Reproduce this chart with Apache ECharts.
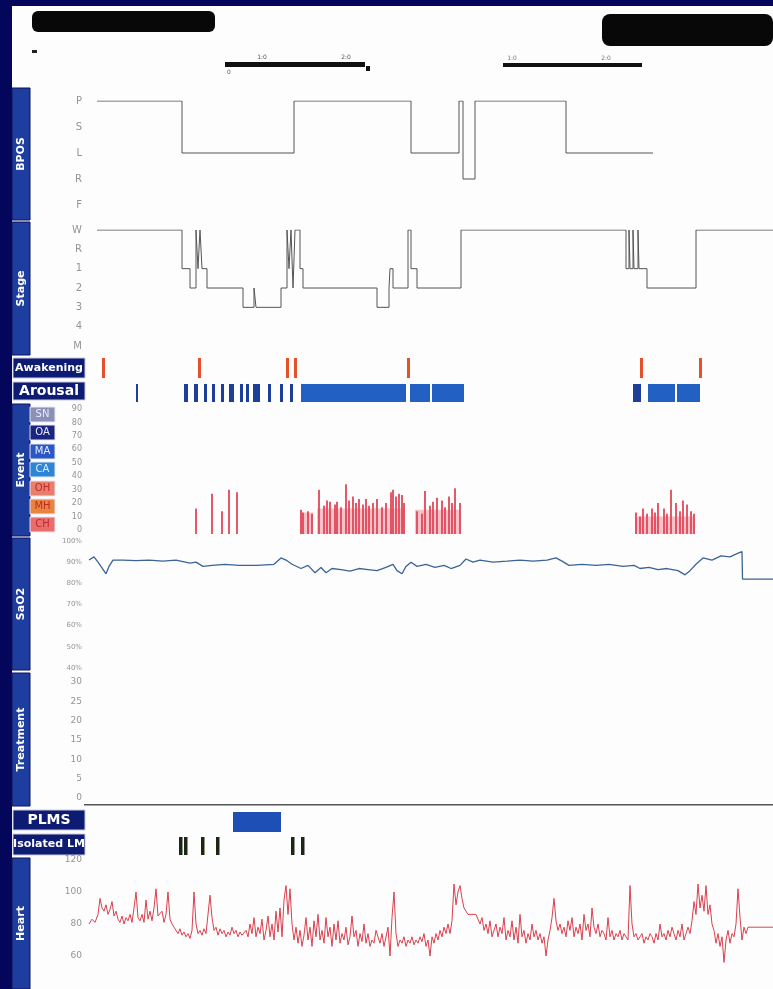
<!DOCTYPE html>
<html><head><meta charset="utf-8">
<script src="https://cdn.jsdelivr.net/npm/echarts@6/dist/echarts.min.js"></script>
<style>html,body{margin:0;padding:0;background:#ffffff;} #c{width:773px;height:989px;}</style>
</head><body><div id="c"></div>
<script>
// ---------- DATA (time in minutes from start of trace) ----------
const bposLabels = ['P','S','L','R','F'];
const bposSteps = [[0,0],[85,2],[197,0],[314,2],[362,0],[366,3],[378,0],[469,2],[556,2]];

const stageLabels = ['W','R','1','2','3','4','M'];
const stageSteps = [[0,0],[85,2],[93,3],[99,0],[101,2],[103,0],[105,2],[110,3],[146,4],[157,3],[159,4],[184,3],[190,0],[192,2],[194,0],[196,3],[198,0],[203,2],[206,3],[280,4],[292,3],[293,2],[296,3],[311,0],[314,2],[320,3],[364,0],[529,2],[532,0],[533,2],[536,0],[537,2],[541,0],[542,2],[550,3],[599,0],[676,0]];

const awakenings = [[5,8],[101,104],[189,192],[197,200],[310,313],[543,546],[602,605]];
const arousals = [[39,41],[87,91],[97,101],[107,110],[115,118],[124,127],[132,137],[143,146],[149,152],[156,163],[171,174],[183,186],[193,196],[204,309],[313,333],[335,367],[536,544],[551,578],[580,603]];

const eventLabels = ['SN','OA','MA','CA','OH','MH','CH'];
const events = [[99,16],[115,27],[125,14],[132,30],[140,28],
 [204,15],[206,13],[211,14],[215,12],[222,30],[227,18],[230,22],[233,21],[238,19],[240,21],[244,17],[249,34],[252,22],[256,25],[259,20],[262,23],[266,19],[269,23],[272,18],[276,20],[280,23],[285,17],[289,20],[294,28],[296,30],[299,25],[302,27],[305,26],[307,20],
 [320,14],[325,12],[328,29],[333,18],[336,21],[340,24],[345,22],[348,17],[352,25],[355,20],[358,31],[363,20],
 [539,13],[543,10],[546,16],[550,12],[555,16],[558,13],[561,20],[567,16],[570,12],[574,30],[579,20],[583,14],[586,22],[590,19],[594,14],[597,12]];
// pale shading under dense event clusters: [start, end, height]
const eventShade = [[203,216,13],[220,308,16],[318,364,15],[538,598,10]];

const sao2 = [[-8,91],[-3,92.5],[1,90],[5.5,87],[9,84.5],[12,88],[16,91],[26,91],[39,90.7],[52,91],[66,90.5],[79,91],[93,89.5],[99,90],[106,88],[115,88.5],[128,89],[142,88.5],[160,88.5],[177,89],[184,92],[189,91],[195,89],[204,87],[211,88.5],[218,85],[224,87.5],[229,85],[235,87],[244,86.5],[253,85.8],[262,87],[271,86.5],[280,86],[289,87.5],[296,89],[300,86],[305,84.5],[309,88],[314,90],[320,88],[329,89],[338,87.5],[347,88.5],[354,87],[363,88.5],[369,91.5],[376,90],[383,91],[396,90],[410,90.5],[423,91],[436,90.5],[450,91],[459,92],[465,90.5],[472,88.5],[485,89],[499,88.5],[512,89],[526,88],[537,88.5],[543,87],[552,87.5],[561,86.5],[570,87],[581,86],[588,84],[593,86],[599,89],[606,92],[615,91],[624,93],[633,92.5],[640,94],[645,95],[645.5,82],[676,82]];

const treatmentTicks = [0,5,10,15,20,25,30];
const plms = [[136,184]];
const isolatedLM = [[82,85.5],[87,90.5],[104,107.5],[119,122.5],[194,197.5],[204,207.5]];

const heart = [[-8,80],[-5,83],[-2,81],[1,86],[3,96],[5,90],[7,88],[9,92],[11,86],[13,89],[15,94],[17,85],[19,88],[21,83],[23,81],[25,85],[27,80],[29,84],[31,82],[33,86],[35,81],[37,90],[39,100],[41,84],[43,82],[45,86],[47,81],[49,95],[51,83],[53,88],[55,82],[57,90],[59,102],[61,85],[63,84],[65,88],[67,81],[69,86],[71,100],[73,83],[75,80],[77,78],
 [79,76],[81,74],[83,77],[85,73],[87,75],[89,72],[91,74],[93,71],[95,76],[97,100],[99,80],[101,74],[103,76],[105,73],[107,77],[109,74],[111,75],[113,98],[115,84],[117,76],[119,78],[121,73],[123,77],[125,74],[127,76],[129,72],[131,75],[133,73],[135,78],[137,74],[139,76],[141,72],[143,75],[145,73],[147,74],[149,76],[151,72],[153,80],[155,74],[157,84],[159,72],[161,78],[163,74],[165,83],[167,70],[169,76],
 [171,85],[173,72],[175,80],[177,70],[179,88],[181,75],[183,90],[185,72],[187,95],[189,104],[191,86],[193,102],[195,80],[197,70],[199,78],
 [201,68],[203,76],[205,66],[207,73],[209,84],[211,70],[213,78],[215,66],[217,82],[219,72],[221,86],[223,70],[225,76],[227,68],[229,84],[231,72],[233,78],[235,66],[237,80],[239,70],[241,82],[243,68],[245,74],[247,70],[249,78],[251,67],[253,72],[255,85],[257,72],[259,76],[261,66],[263,74],[265,69],[267,80],[269,68],[271,74],[273,66],[275,70],[277,68],[279,76],[281,72],[283,68],[285,74],[287,66],[289,72],[291,78],[293,60],[295,84],[297,100],[299,74],[301,66],[303,70],[305,68],[307,72],[309,66],[311,70],[313,68],[315,72],[317,67],[319,70],[321,68],[323,72],[325,69],[327,74],[329,66],[331,70],[333,60],[335,72],[337,68],[339,74],[341,70],[343,76],[345,72],[347,78],[349,74],[351,80],[353,74],
 [355,82],[357,105],[359,92],[361,100],[363,104],[365,96],[367,90],[369,88],[371,86],[373,86],[375,86],[377,86],[379,86],[381,86],[383,80],[385,84],[387,76],[389,80],[391,74],[393,82],[395,72],[397,76],
 [399,80],[401,72],[403,78],[405,74],[407,84],[409,70],[411,76],[413,72],[415,82],[417,70],[419,78],[421,68],[423,86],[425,72],[427,76],[429,68],[431,74],[433,70],[435,80],[437,72],[439,76],[441,70],[443,74],[445,68],[447,72],[449,60],[451,70],[453,76],[455,84],[457,96],[459,82],[461,76],[463,80],[465,74],[467,78],[469,72],[471,82],[473,76],[475,84],[477,72],[479,78],[481,74],[483,80],[485,70],[487,86],[489,76],[491,80],[493,72],[495,90],[497,78],[499,74],[501,80],[503,72],[505,76],[507,74],[509,70],[511,84],[513,72],[515,76],[517,70],[519,74],[521,72],[523,76],[525,70],[527,74],[529,72],[531,70],[533,104],[535,80],[537,72],[539,74],[541,70],[543,72],[545,74],[547,68],[549,72],[551,70],[553,74],[555,72],[557,68],[559,74],[561,70],[563,80],[565,72],[567,74],[569,70],[571,76],[573,72],[575,78],[577,74],[579,70],[581,76],[583,72],[585,80],[587,70],[589,74],[591,78],[593,74],[595,82],[597,94],[599,86],[601,105],[603,90],[605,98],[607,88],[609,104],[611,86],[613,92],[615,80],[617,76],[619,68],[621,74],[623,66],[625,72],[627,56],[629,70],[631,76],[633,68],[635,74],[637,72],[639,80],[641,102],[643,84],[645,70],[647,78],[649,74],[651,78],[676,78]];

// ---------- LAYOUT ----------
const L = 89, W = 684, TMIN = -8, TMAX = 676;
const panels = [
  {top:101, h:104}, // 0 BPOS
  {top:230, h:116}, // 1 Stage
  {top:358, h:20},  // 2 Awakening
  {top:384, h:18},  // 3 Arousal
  {top:409, h:121}, // 4 Event
  {top:541, h:127}, // 5 SaO2
  {top:682, h:116}, // 6 Treatment
  {top:812, h:20},  // 7 PLMS
  {top:837, h:18},  // 8 Isolated LM
  {top:860, h:128}  // 9 Heart
];
const lab = {color:'#949494', fontSize:9, fontFamily:'DejaVu Sans', margin:7};
const hide = {axisLine:{show:false}, axisTick:{show:false}, splitLine:{show:false}};

const grid = panels.map(p => ({left:L, top:p.top, width:W, height:p.h}));
const xAxis = panels.map((p,i) => ({type:'value', gridIndex:i, min:TMIN, max:TMAX, show:false}));
const yAxis = [
  Object.assign({type:'value', gridIndex:0, min:0, max:4, interval:1, inverse:true, axisLabel:Object.assign({}, lab, {fontSize:10, formatter:v=>bposLabels[v]||''})}, hide),
  Object.assign({type:'value', gridIndex:1, min:0, max:6, interval:1, inverse:true, axisLabel:Object.assign({}, lab, {fontSize:10, formatter:v=>stageLabels[v]||''})}, hide),
  {type:'value', gridIndex:2, min:0, max:1, show:false},
  {type:'value', gridIndex:3, min:0, max:1, show:false},
  Object.assign({type:'value', gridIndex:4, min:0, max:90, interval:10, axisLabel:Object.assign({}, lab, {fontSize:8})}, hide),
  Object.assign({type:'value', gridIndex:5, min:40, max:100, interval:10, axisLabel:Object.assign({}, lab, {fontSize:7, formatter:'{value}%'})}, hide),
  Object.assign({type:'value', gridIndex:6, min:treatmentTicks[0], max:treatmentTicks[treatmentTicks.length-1], interval:5, axisLabel:Object.assign({}, lab, {fontSize:9})}, hide),
  {type:'value', gridIndex:7, min:0, max:1, show:false},
  {type:'value', gridIndex:8, min:0, max:1, show:false},
  Object.assign({type:'value', gridIndex:9, min:40, max:120, interval:20, axisLabel:Object.assign({}, lab, {fontSize:9, formatter:v=>v===40?'':String(v)})}, hide)
];

function rectSeries(idx, data, color) {
  return {
    type:'custom', xAxisIndex:idx, yAxisIndex:idx, data:data,
    encode:{x:[0,1]},
    renderItem:(params, api) => {
      const a = api.coord([api.value(0), 1]);
      const b = api.coord([api.value(1), 0]);
      return {type:'rect', shape:{x:a[0], y:a[1], width:Math.max(b[0]-a[0], 1.5), height:b[1]-a[1]}, style:{fill:color}};
    }
  };
}
const arousalThin = arousals.filter(d => d[1]-d[0] < 10);
const arousalWide = arousals.filter(d => d[1]-d[0] >= 10);

const series = [
  {type:'line', xAxisIndex:0, yAxisIndex:0, data:bposSteps, step:'end', symbol:'none', lineStyle:{color:'#555', width:1}},
  {type:'line', xAxisIndex:1, yAxisIndex:1, data:stageSteps, step:'end', symbol:'none', lineStyle:{color:'#555', width:1}},
  rectSeries(2, awakenings, '#e5512b'),
  rectSeries(3, arousalThin, '#1d3f9a'),
  rectSeries(3, arousalWide, '#2260c4'),
  {type:'custom', xAxisIndex:4, yAxisIndex:4, data:eventShade, encode:{x:[0,1], y:2},
    renderItem:(params, api) => {
      const a = api.coord([api.value(0), api.value(2)]);
      const b = api.coord([api.value(1), 0]);
      return {type:'rect', shape:{x:a[0], y:a[1], width:b[0]-a[0], height:b[1]-a[1]+4}, style:{fill:'#f6c3c8'}};
    }},
  {type:'custom', xAxisIndex:4, yAxisIndex:4, data:events, encode:{x:0, y:1},
    renderItem:(params, api) => {
      const a = api.coord([api.value(0), api.value(1)]);
      const b = api.coord([api.value(0), 0]);
      return {type:'rect', shape:{x:a[0]-0.9, y:a[1], width:1.8, height:b[1]-a[1]+4}, style:{fill:'#e2475a'}};
    }},
  {type:'line', xAxisIndex:5, yAxisIndex:5, data:sao2, symbol:'none', lineStyle:{color:'#3b6396', width:1.3}},
  rectSeries(7, plms, '#1e4fb6'),
  rectSeries(8, isolatedLM, '#1c2614'),
  {type:'line', xAxisIndex:9, yAxisIndex:9, data:heart, symbol:'none', lineStyle:{color:'#d8404f', width:1}}
];

// ---------- DECORATION ----------
const navyBox = '#0e1b72', blueBox = '#1d3d9f';
function vbox(y0, y1, text) {
  return [
    {type:'rect', shape:{x:12, y:y0, width:18, height:y1-y0}, style:{fill:blueBox, stroke:'#0a145c', lineWidth:1}},
    {type:'text', x:21, y:(y0+y1)/2, rotation:Math.PI/2, style:{text:text, fill:'#fff', font:'bold 11px "DejaVu Sans"', textAlign:'center', textVerticalAlign:'middle'}}
  ];
}
function hbox(y0, y1, text, size) {
  return [
    {type:'rect', shape:{x:13, y:y0, width:72, height:y1-y0}, style:{fill:navyBox, stroke:'#c8cbe0', lineWidth:1}},
    {type:'text', x:49, y:(y0+y1)/2, style:{text:text, fill:'#fff', font:'bold '+size+'px "DejaVu Sans"', textAlign:'center', textVerticalAlign:'middle'}}
  ];
}
const codeColors = ['#8c90b6','#1b2580','#2a58c6','#2c86d6','#e87f6c','#e9843f','#e86e6e'];
const codeY = [407,425,444,462,481,499,517];
const codeEls = [];
eventLabels.forEach((t,i) => {
  codeEls.push({type:'rect', shape:{x:30, y:codeY[i], width:25, height:15}, style:{fill:codeColors[i], stroke:'#e8e8f0', lineWidth:1}});
  codeEls.push({type:'text', x:42.5, y:codeY[i]+7.5, style:{text:t, fill:i>=4?'#c02a2a':'#e6e9ff', font:'10px "DejaVu Sans"', textAlign:'center', textVerticalAlign:'middle'}});
});

const graphic = [
  {type:'rect', shape:{x:0, y:0, width:773, height:6}, style:{fill:'#03065a'}},
  {type:'rect', shape:{x:0, y:0, width:12, height:989}, style:{fill:'#03065a'}},
  {type:'rect', shape:{x:32, y:11, width:183, height:21, r:6}, style:{fill:'#080808'}},
  {type:'rect', shape:{x:602, y:14, width:171, height:32, r:8}, style:{fill:'#080808'}},
  {type:'rect', shape:{x:32, y:50, width:5, height:3}, style:{fill:'#222'}},
  // scale bars
  {type:'rect', shape:{x:225, y:62, width:140, height:5}, style:{fill:'#111'}},
  {type:'rect', shape:{x:366, y:66, width:4, height:5}, style:{fill:'#111'}},
  {type:'text', x:262, y:57, style:{text:'1:0', fill:'#555', font:'6px "DejaVu Sans"', textAlign:'center', textVerticalAlign:'middle'}},
  {type:'text', x:346, y:57, style:{text:'2:0', fill:'#555', font:'6px "DejaVu Sans"', textAlign:'center', textVerticalAlign:'middle'}},
  {type:'text', x:229, y:72, style:{text:'0', fill:'#555', font:'6px "DejaVu Sans"', textAlign:'center', textVerticalAlign:'middle'}},
  {type:'rect', shape:{x:503, y:63, width:139, height:4}, style:{fill:'#111'}},
  {type:'text', x:512, y:58, style:{text:'1:0', fill:'#777', font:'6px "DejaVu Sans"', textAlign:'center', textVerticalAlign:'middle'}},
  {type:'text', x:606, y:58, style:{text:'2:0', fill:'#777', font:'6px "DejaVu Sans"', textAlign:'center', textVerticalAlign:'middle'}},
  // treatment bottom rule
  {type:'rect', shape:{x:84, y:804, width:689, height:1.5}, style:{fill:'#555'}}
].concat(
  vbox(88, 220, 'BPOS'), vbox(222, 355, 'Stage'),
  hbox(358, 378, 'Awakening', 11), hbox(382, 400, 'Arousal', 14),
  vbox(404, 536, 'Event'), codeEls,
  vbox(538, 670, 'SaO2'), vbox(673, 806, 'Treatment'),
  hbox(810, 830, 'PLMS', 14), hbox(834, 855, 'Isolated LM', 11),
  vbox(858, 989, 'Heart')
);

const chart = echarts.init(document.getElementById('c'), null, {renderer:'canvas'});
chart.setOption({animation:false, backgroundColor:'#fdfdfd', grid, xAxis, yAxis, series, graphic});
</script></body></html>
